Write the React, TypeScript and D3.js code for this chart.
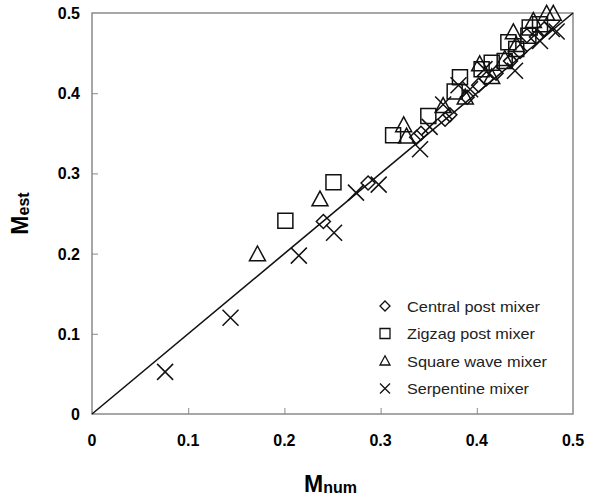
import React, { useEffect, useRef } from 'react';
import * as d3 from 'd3';

// data (Mnum, Mest)
const centralPost: [number, number][] = [
  [0.2405, 0.240], [0.287, 0.288], [0.3375, 0.345], [0.342, 0.350], [0.367, 0.3675],
  [0.372, 0.373], [0.390, 0.395], [0.402, 0.410], [0.410, 0.418], [0.420, 0.425],
  [0.435, 0.440], [0.445, 0.452], [0.452, 0.4716], [0.462, 0.470], [0.470, 0.480],
];
const zigzagPost: [number, number][] = [
  [0.201, 0.241], [0.251, 0.289], [0.313, 0.3475], [0.3496, 0.3716], [0.377, 0.402],
  [0.3825, 0.420], [0.405, 0.430], [0.4155, 0.438], [0.429, 0.440], [0.4328, 0.4634],
  [0.441, 0.455], [0.4536, 0.4716], [0.455, 0.482], [0.4657, 0.486],
];
const squareWave: [number, number][] = [
  [0.172, 0.199], [0.237, 0.2675], [0.324, 0.360], [0.327, 0.346], [0.365, 0.384],
  [0.388, 0.3946], [0.403, 0.436], [0.4155, 0.420], [0.429, 0.4425], [0.438, 0.476],
  [0.441, 0.460], [0.4588, 0.490], [0.4726, 0.499], [0.4795, 0.499],
];
const serpentine: [number, number][] = [
  [0.076, 0.0525], [0.144, 0.120], [0.215, 0.1975], [0.2516, 0.226], [0.2744, 0.276],
  [0.298, 0.286], [0.341, 0.330], [0.351, 0.358], [0.365, 0.386], [0.381, 0.410],
  [0.393, 0.405], [0.408, 0.430], [0.4397, 0.428], [0.4657, 0.465], [0.478, 0.480],
  [0.483, 0.477],
];
const seriesNames = ['Central post mixer', 'Zigzag post mixer', 'Square wave mixer', 'Serpentine mixer'];
const ticks = [0, 0.1, 0.2, 0.3, 0.4, 0.5];

type Shape = 'diamond' | 'square' | 'triangle' | 'cross';

// marker path, s = half size in px
function marker(shape: Shape, s: number): string {
  const p = d3.path();
  if (shape === 'square') {
    p.rect(-s, -s, 2 * s, 2 * s);
  } else if (shape === 'diamond') {
    p.moveTo(0, -s); p.lineTo(s, 0); p.lineTo(0, s); p.lineTo(-s, 0); p.closePath();
  } else if (shape === 'triangle') {
    p.moveTo(0, -s * 1.05); p.lineTo(s, s * 0.8); p.lineTo(-s, s * 0.8); p.closePath();
  } else {
    p.moveTo(-s, -s); p.lineTo(s, s); p.moveTo(s, -s); p.lineTo(-s, s);
  }
  return p.toString();
}

export default function App() {
  const ref = useRef<SVGSVGElement>(null);

  useEffect(() => {
    const width = 589;
    const height = 500;
    const margin = { top: 13, right: 16, bottom: 86, left: 92 };
    const svg = d3.select(ref.current).attr('width', width).attr('height', height);
    svg.selectAll('*').remove();

    const x = d3.scaleLinear().domain([0, 0.5]).range([margin.left, width - margin.right]);
    const y = d3.scaleLinear().domain([0, 0.5]).range([height - margin.bottom, margin.top]);
    const font = '"Liberation Sans", Arial, sans-serif';
    const frame = '#8a8a8a';

    // frame
    svg.append('rect')
      .attr('x', x(0)).attr('y', y(0.5))
      .attr('width', x(0.5) - x(0)).attr('height', y(0) - y(0.5))
      .attr('fill', 'none').attr('stroke', frame).attr('stroke-width', 1.5);

    // inward ticks
    const xAxis = d3.axisTop(x).tickValues(ticks.slice(1, -1)).tickSize(6).tickFormat(() => '');
    const yAxis = d3.axisRight(y).tickValues(ticks.slice(1, -1)).tickSize(6).tickFormat(() => '');
    const gx = svg.append('g').attr('transform', `translate(0,${y(0)})`).call(xAxis);
    const gy = svg.append('g').attr('transform', `translate(${x(0)},0)`).call(yAxis);
    [gx, gy].forEach(g => {
      g.select('.domain').remove();
      g.selectAll('line').attr('stroke', frame).attr('stroke-width', 1);
    });

    // tick labels
    svg.append('g').selectAll('text').data(ticks).join('text')
      .attr('x', d => x(d)).attr('y', y(0) + 32)
      .attr('text-anchor', 'middle')
      .attr('font-family', font).attr('font-weight', 'bold').attr('font-size', 16)
      .text(d => (d === 0 ? '0' : d3.format('.1f')(d)));
    svg.append('g').selectAll('text').data(ticks).join('text')
      .attr('x', x(0) - 12).attr('y', d => y(d) + 6)
      .attr('text-anchor', 'end')
      .attr('font-family', font).attr('font-weight', 'bold').attr('font-size', 16)
      .text(d => (d === 0 ? '0' : d3.format('.1f')(d)));

    // axis titles
    const xt = svg.append('text')
      .attr('x', (x(0) + x(0.5)) / 2 - 2).attr('y', 492)
      .attr('text-anchor', 'middle')
      .attr('font-family', font).attr('font-weight', 'bold').attr('font-size', 23);
    xt.append('tspan').text('M');
    xt.append('tspan').attr('font-size', 16).attr('dy', 1).text('num');
    const yt = svg.append('text')
      .attr('transform', `translate(28,${(y(0) + y(0.5)) / 2}) rotate(-90)`)
      .attr('text-anchor', 'middle')
      .attr('font-family', font).attr('font-weight', 'bold').attr('font-size', 23);
    yt.append('tspan').text('M');
    yt.append('tspan').attr('font-size', 16).attr('dy', 1).text('est');

    // 1:1 line
    svg.append('path')
      .datum([[0, 0], [0.5, 0.5]] as [number, number][])
      .attr('fill', 'none').attr('stroke', '#111').attr('stroke-width', 1.6)
      .attr('d', d3.line<[number, number]>().x(d => x(d[0])).y(d => y(d[1])));

    const groups: { data: [number, number][]; shape: Shape; s: number }[] = [
      { data: centralPost, shape: 'diamond', s: 7 },
      { data: zigzagPost, shape: 'square', s: 7.5 },
      { data: squareWave, shape: 'triangle', s: 8 },
      { data: serpentine, shape: 'cross', s: 8 },
    ];

    groups.forEach(gr => {
      svg.append('g').selectAll('path').data(gr.data).join('path')
        .attr('transform', d => `translate(${x(d[0])},${y(d[1])})`)
        .attr('d', marker(gr.shape, gr.s))
        .attr('fill', 'none').attr('stroke', '#111').attr('stroke-width', 1.5);
    });

    // legend
    const legend = svg.append('g').attr('transform', 'translate(385,306)');
    groups.forEach((gr, i) => {
      const row = legend.append('g').attr('transform', `translate(0,${i * 27.5})`);
      row.append('path')
        .attr('d', marker(gr.shape, 5))
        .attr('fill', 'none').attr('stroke', '#111').attr('stroke-width', 1.3);
      row.append('text')
        .attr('x', 22).attr('y', 5.5)
        .attr('font-family', font).attr('font-size', 14.5).attr('fill', '#222')
        .attr('textLength', [133, 128, 140, 122][i]).attr('lengthAdjust', 'spacingAndGlyphs')
        .text(seriesNames[i]);
    });
  }, []);

  return <svg ref={ref} style={{ position: 'absolute', left: 0, top: 0 }} />;
}
